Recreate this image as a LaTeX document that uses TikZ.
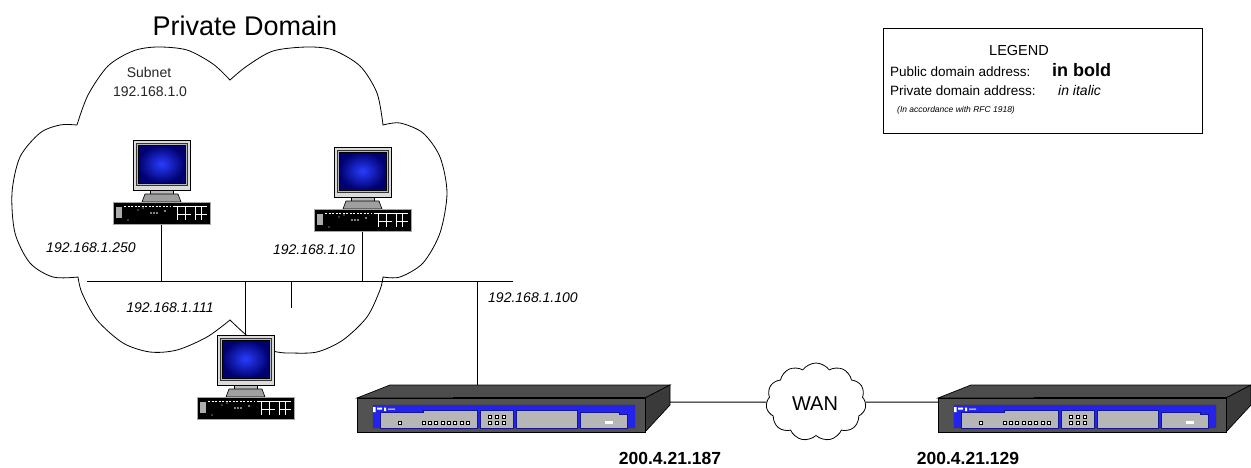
\documentclass[tikz,border=0pt]{standalone}
\usepackage{fontspec}
\setmainfont{Liberation Sans}
\usetikzlibrary{shapes.symbols}
\definecolor{scrA}{RGB}{40,60,255}
\definecolor{scrB}{RGB}{0,0,110}
\definecolor{rblue}{RGB}{35,35,235}
\definecolor{rgray}{RGB}{182,182,182}
\definecolor{rdark}{RGB}{82,82,82}
\definecolor{rside}{RGB}{58,58,58}
\definecolor{rtopc}{RGB}{76,76,76}
\tikzset{
  fs/.style={font=\fontsize{#1}{#1}\selectfont},
  bfs/.style={font=\fontsize{#1}{#1}\selectfont\bfseries},
  ifs/.style={font=\fontsize{#1}{#1}\selectfont\itshape},
  txt/.style={inner sep=0, anchor=base},
  ipl/.style={txt, ifs=14},
  wire/.style={line width=1pt},
  sq/.style={draw=black, fill=white, line width=0.6pt},
  pcpic/.pic={
    % stand
    \draw[fill=gray!55, line width=0.6pt] (17,50) rectangle (40,54);
    \draw[fill=gray!75, line width=0.6pt] (12,54) -- (45,54) -- (48,62) -- (9,62) -- cycle;
    % monitor
    \node[draw, line width=0.9pt, fill=gray!28, minimum width=57, minimum height=50, inner sep=0, anchor=north west] (-mon) at (0,0) {};
    \draw[fill=gray!55, draw=gray!40!black, line width=0.5pt] (3,3) rectangle (54,45);
    \shade[inner color=scrA, outer color=scrB] (5,5) rectangle (52,43);
    \draw[line width=0.6pt] (5,5) rectangle (52,43);
    % base unit
    \node[draw=gray!70, fill=black, line width=0.6pt, minimum width=97, minimum height=22, inner sep=0, anchor=north west] (-box) at (-20,62) {};
    \fill[gray!65] (-17,67) rectangle (-11,78);
    \draw[white, line width=0.6pt, dash pattern=on 2pt off 1.5pt] (-9,66) -- (38,66);
    \draw[white, line width=0.6pt] (40,66) -- (74,66) (44,66) -- (44,80) (52,66) -- (52,80)
         (44,74) -- (58,74) (62,66) -- (62,80) (62,74) -- (74,74) (68,66) -- (68,80);
    \fill[white] (18,73) circle (0.8) (21,73) circle (0.8) (24,73) circle (0.8)
         (5,70) circle (0.7) (-5,80) circle (0.7) (32,71) circle (0.8) (10,68) circle (0.7);
  },
  routerpic/.pic={
    \draw[fill=rtopc, line width=0.7pt] (0,0) -- (33,-13) -- (313,-13) -- (288,0) -- cycle;
    \draw[fill=rside, line width=0.7pt] (288,0) -- (313,-13) -- (313,7) -- (288,34) -- cycle;
    \node[draw, line width=0.8pt, fill=rdark, minimum width=288, minimum height=34, inner sep=0, anchor=north west] (-front) at (0,0) {};
    \draw[line width=1.6pt] (96,-0.3) -- (288,-0.3);
    \draw[fill=rblue, draw=black!70, line width=0.5pt] (15,6) rectangle (278,30);
    \draw[fill=rgray, draw=rblue!60!black, line width=0.5pt] (23,30) -- (23,14) -- (66,14) -- (66,12) -- (120,12) -- (120,30) -- cycle;
    \draw[fill=rgray, draw=rblue!60!black, line width=0.5pt] (123,12) rectangle (156,30);
    \draw[fill=rgray, draw=rblue!60!black, line width=0.5pt] (159,12) rectangle (220,30);
    \draw[fill=rgray, draw=rblue!60!black, line width=0.5pt] (223,30) -- (223,14) -- (262,14) -- (262,16) -- (270,16) -- (270,30) -- cycle;
    \draw[sq] (41.5,23.5) rectangle +(3,3);
    \foreach \i in {0,...,7} {\draw[sq] (65+6.3*\i,23.5) rectangle +(3,3);}
    \foreach \i in {0,1,2} {\draw[sq] (131+7*\i,17.5) rectangle +(3,3); \draw[sq] (131+7*\i,23.5) rectangle +(3,3);}
    \fill[white] (248,23) rectangle (256,26);
    \fill[white] (16,9) rectangle (18.5,14) (20,9.5) rectangle (25,11.5) (27,9.5) rectangle (29,13) (31,10.5) rectangle (38,11.5);
    \coordinate (-top) at (120,-13);
    \coordinate (-right) at (313,4);
    \coordinate (-left) at (0,4);
  }
}
\begin{document}
\begin{tikzpicture}[x=1pt, y=-1pt]
\useasboundingbox (0,0) rectangle (1251,467);
\fill[white] (0,0) rectangle (1251,467);

% title
\node[txt, fs=27] (title) at (245,35) {Private Domain};

% private domain cloud
\draw[line width=0.8pt, fill=white]
  plot[smooth] coordinates {(77,125) (88,95) (108,66) (133,51) (157,47) (187,50) (213,64) (230,80)}
  -- plot[smooth] coordinates {(230,80) (247,66) (273,51) (307,47) (333,50) (360,66) (377,93) (383,125)}
  -- plot[smooth] coordinates {(383,125) (400,123) (423,133) (440,157) (447,193) (440,233) (423,263) (400,277) (383,277)}
  -- plot[smooth] coordinates {(383,277) (380,290) (367,317) (343,340) (317,352) (290,353) (277,352) (262,347) (245,334) (230,320)}
  -- plot[smooth] coordinates {(230,320) (207,337) (177,350) (150,352) (123,343) (97,320) (82,293) (78,277)}
  -- plot[smooth] coordinates {(78,277) (53,277) (30,263) (15,233) (12,193) (20,157) (40,133) (60,125) (77,125)} -- cycle;

\node[txt, fs=14, text=black!85] (subnet) at (149,77) {Subnet};
\node[txt, fs=14, text=black!85] (subnetip) at (150,96) {192.168.1.0};

% bus
\coordinate (busL) at (87,281);
\coordinate (busR) at (513,281);
\coordinate (stub) at (291,308);
\draw[wire] (busL) -- (busR);
\draw[wire] (stub |- busL) -- (stub);

% computers
\pic (pc1) at (133,140) {pcpic};
\pic (pc2) at (334,147) {pcpic};
\pic (pc3) at (217,335) {pcpic};
\draw[wire] (pc1-box.south) -- (pc1-box.south |- busL);
\draw[wire] (pc2-box.south) -- (pc2-box.south |- busL);
\draw[wire] (pc3-mon.north) -- (pc3-mon.north |- busL);

% routers
\pic (r1) at (357,398) {routerpic};
\pic (r2) at (938,398) {routerpic};
\draw[wire] (r1-top) -- (r1-top |- busL);

% WAN
\node[cloud, draw, line width=0.8pt, cloud puffs=11, cloud puff arc=110, cloud ignores aspect,
      minimum width=100, minimum height=78, inner sep=0, fill=white] (wan) at (816,402) {};
\node[txt, fs=20] (wantxt) at (815,410) {WAN};
\draw[wire] (r1-right) -- (wan.west);
\draw[wire] (wan.east) -- (r2-left);

% address labels
\node[ipl] (ip250) at (91,252) {192.168.1.250};
\node[ipl] (ip10) at (314,254) {192.168.1.10};
\node[ipl] (ip111) at (170,312) {192.168.1.111};
\node[ipl, anchor=base west] (ip100) at (488,302) {192.168.1.100};
\node[txt, bfs=17.5] (ip187) at (670,464) {200.4.21.187};
\node[txt, bfs=17.5] (ip129) at (968,464) {200.4.21.129};

% legend
\node[draw, line width=1.1pt, minimum width=319, minimum height=105, inner sep=0, anchor=north west] (legend) at (883,28) {};
\node[txt, fs=14.5] (lgtitle) at (1019,55) {LEGEND};
\node[txt, anchor=base west, fs=13.5] (lgpub) at (890,76) {Public domain address:};
\node[txt, anchor=base west, bfs=18] (lgbold) at (1052,76) {in bold};
\node[txt, anchor=base west, fs=13.5] (lgpriv) at (890,95) {Private domain address:};
\node[txt, anchor=base west, ifs=14] (lgital) at (1058,95) {in italic};
\node[txt, anchor=base west, ifs=8.5] (lgrfc) at (897,112) {(In accordance with RFC 1918)};
\end{tikzpicture}
\end{document}
